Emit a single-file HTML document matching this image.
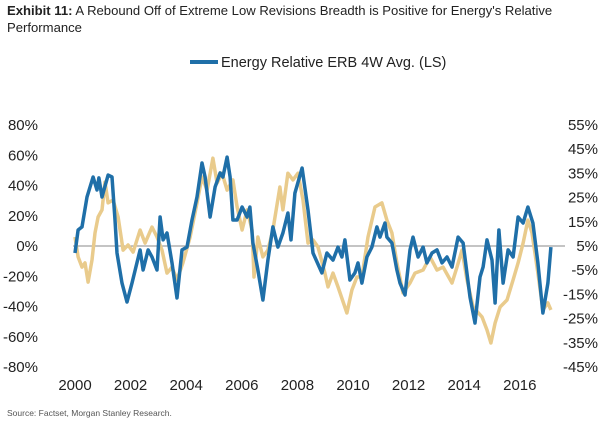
<!DOCTYPE html>
<html><head><meta charset="utf-8"><style>
body{margin:0;background:#fff;font-family:"Liberation Sans",sans-serif;}
svg{display:block}
</style></head><body>
<svg width="605" height="426" viewBox="0 0 605 426" id="c">
<text x="7" y="15" font-size="13.1" fill="#222"><tspan font-weight="bold">Exhibit 11:</tspan> A Rebound Off of Extreme Low Revisions Breadth is Positive for Energy's Relative</text>
<text x="7" y="32" font-size="13.1" fill="#222">Performance</text>
<line x1="190" y1="62" x2="218" y2="62" stroke="#1f6fa8" stroke-width="4"/>
<text x="221" y="67" font-size="14.5" fill="#222">Energy Relative ERB 4W Avg. (LS)</text>
<line x1="73" y1="246" x2="565" y2="246" stroke="#888" stroke-width="1"/>
<g id="ly"></g>
<g id="ry"></g>
<g id="xa"></g>
<g id="series"></g>
<text x="7" y="416" font-size="8.5" fill="#555">Source: Factset, Morgan Stanley Research.</text>
</svg>
<script>
const leftTicks=[80,60,40,20,0,-20,-40,-60,-80];
const rightTicks=[55,45,35,25,15,5,-5,-15,-25,-35,-45];
const xTicks=[2000,2002,2004,2006,2008,2010,2012,2014,2016];
const blueDates=[2000.00,2000.11,2000.25,2000.43,2000.65,2000.79,2000.86,2000.97,2001.19,2001.33,2001.44,2001.51,2001.69,2001.87,2002.05,2002.34,2002.45,2002.63,2002.77,2002.95,2003.06,2003.17,2003.31,2003.49,2003.67,2003.85,2004.03,2004.21,2004.39,2004.57,2004.68,2004.86,2005.04,2005.22,2005.32,2005.47,2005.58,2005.68,2005.83,2006.01,2006.19,2006.29,2006.40,2006.58,2006.76,2006.94,2007.12,2007.30,2007.48,2007.66,2007.77,2007.91,2008.17,2008.38,2008.56,2008.88,2009.06,2009.28,2009.46,2009.60,2009.71,2009.89,2010.07,2010.18,2010.32,2010.50,2010.68,2010.86,2010.97,2011.15,2011.22,2011.40,2011.58,2011.69,2011.87,2012.05,2012.16,2012.34,2012.52,2012.66,2012.84,2013.02,2013.20,2013.38,2013.56,2013.78,2013.96,2014.21,2014.39,2014.57,2014.68,2014.82,2015.00,2015.11,2015.25,2015.40,2015.58,2015.76,2015.94,2016.12,2016.29,2016.47,2016.65,2016.83,2017.01,2017.12];
const blueValues=[-4.6,10.6,12.6,32.4,45.6,37.0,45.0,32.4,46.9,45.6,17.2,-4.6,-24.5,-37.0,-24.5,-2.6,-15.9,-2.6,-7.3,-15.9,19.2,4.0,8.6,-11.2,-34.4,-2.6,-0.7,17.2,32.4,54.9,45.6,19.2,39.0,48.3,45.6,58.8,45.6,17.2,17.2,25.8,19.2,25.8,2.0,-15.9,-35.7,-9.3,12.6,-0.7,8.6,21.8,4.0,35.0,51.6,23.8,-4.6,-17.8,-4.6,-9.3,-0.7,-7.3,4.0,-22.5,-17.8,-11.2,-24.5,-7.3,-0.7,12.6,5.9,15.2,5.9,2.0,-15.9,-24.5,-32.4,-2.6,5.9,-7.3,-0.7,-11.2,-4.6,-2.6,-11.2,-7.3,-13.9,5.9,2.0,-33.7,-50.9,-20.5,-13.9,4.0,-9.3,-37.7,10.6,-24.5,-2.6,-7.3,19.2,15.2,25.8,15.2,-11.2,-44.3,-24.5,-0.7];
const goldDates=[2000.00,2000.11,2000.25,2000.36,2000.47,2000.61,2000.72,2000.83,2000.97,2001.08,2001.19,2001.37,2001.55,2001.73,2001.91,2002.09,2002.34,2002.52,2002.77,2002.95,2003.13,2003.31,2003.49,2003.67,2003.88,2004.14,2004.39,2004.57,2004.75,2004.96,2005.11,2005.29,2005.47,2005.68,2005.83,2006.01,2006.19,2006.37,2006.44,2006.58,2006.76,2006.94,2007.12,2007.37,2007.48,2007.66,2007.84,2008.02,2008.20,2008.38,2008.56,2008.74,2008.99,2009.10,2009.28,2009.46,2009.78,2009.96,2010.14,2010.32,2010.54,2010.79,2011.04,2011.22,2011.40,2011.58,2011.80,2012.05,2012.23,2012.52,2012.77,2013.02,2013.24,2013.56,2013.74,2013.92,2014.10,2014.32,2014.64,2014.82,2014.96,2015.11,2015.29,2015.54,2015.76,2015.94,2016.12,2016.29,2016.44,2016.65,2016.83,2017.01,2017.12];
const goldValues=[8.7,0.5,-3.7,-2.0,-9.9,-0.8,10.4,17.0,19.9,31.4,22.8,24.0,17.0,3.3,5.4,2.5,11.6,6.2,12.8,8.7,3.3,-6.2,-3.7,-9.0,-2.0,8.7,22.8,33.5,28.1,41.3,31.0,35.1,28.1,32.3,21.1,11.6,19.9,11.6,-7.8,8.7,0.5,3.3,11.6,29.4,19.9,35.1,32.3,35.1,24.0,6.2,7.5,4.6,-6.2,-11.9,-6.2,-11.9,-22.7,-13.2,-7.8,-7.8,8.7,21.1,22.8,15.7,10.4,-2.0,-14.4,-10.3,-6.2,-4.9,0.5,-4.9,-3.7,-10.3,-3.7,3.3,-9.0,-20.2,-24.3,-29.7,-35.1,-26.8,-20.2,-17.3,-9.0,-2.0,6.2,15.7,10.4,-6.2,-21.4,-18.5,-21.4];

const NS="http://www.w3.org/2000/svg";
const xS=d=>75+(d-2000)*27.8;
const yL=v=>246-v/20*30.25;
const yR=v=>246-(v-5)/10*24.2;
function txt(g,x,y,s,anchor){const t=document.createElementNS(NS,'text');t.setAttribute('x',x);t.setAttribute('y',y);t.setAttribute('font-size','15');t.setAttribute('fill','#222');t.setAttribute('text-anchor',anchor);t.textContent=s;g.appendChild(t);return t;}
const ly=document.getElementById('ly');
leftTicks.forEach(v=>{const t=txt(ly,38,yL(v)+5,v+'%','end');

});
const ry=document.getElementById('ry');
rightTicks.forEach(v=>{const t=txt(ry,598,yR(v)+5,v+'%','end');

});
const xa=document.getElementById('xa');
xTicks.forEach(v=>{const t=txt(xa,xS(v),390,String(v),'middle');

});
const sg=document.getElementById('series');
function line(dates,vals,ys,color,name){const p=document.createElementNS(NS,'path');
p.setAttribute('d',dates.map((d,i)=>(i?'L':'M')+xS(d).toFixed(1)+','+ys(vals[i]).toFixed(1)).join(''));
p.setAttribute('fill','none');p.setAttribute('stroke',color);p.setAttribute('stroke-width','3.5');p.setAttribute('stroke-linejoin','round');


sg.appendChild(p);}
line(goldDates,goldValues,yR,'#e9cb8c','energy-relative-performance-line');
line(blueDates,blueValues,yL,'#1f6fa8','energy-erb-line');
</script>
</body></html>
